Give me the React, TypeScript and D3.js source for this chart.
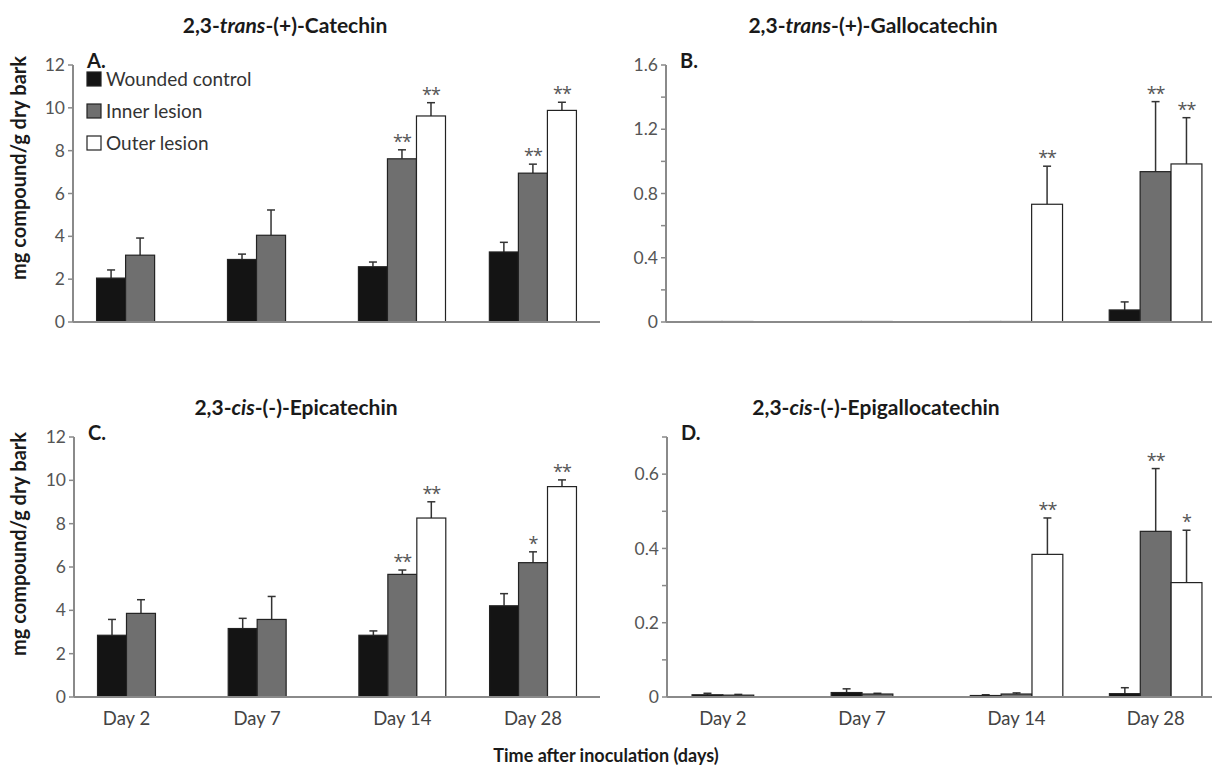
import * as d3 from "d3";

const days = ["Day 2", "Day 7", "Day 14", "Day 28"];
const seriesNames = ["Wounded control", "Inner lesion", "Outer lesion"];
const seriesFill = ["#141414", "#6f6f6f", "#ffffff"];

// A. 2,3-trans-(+)-Catechin
const catechinWounded = [2.05, 2.92, 2.58, 3.27];
const catechinWoundedErr = [0.38, 0.25, 0.22, 0.45];
const catechinInner = [3.12, 4.05, 7.62, 6.95];
const catechinInnerErr = [0.8, 1.18, 0.42, 0.42];
const catechinOuter = [null, null, 9.62, 9.88];
const catechinOuterErr = [null, null, 0.62, 0.38];
const catechinInnerSig = ["", "", "**", "**"];
const catechinOuterSig = ["", "", "**", "**"];

// B. 2,3-trans-(+)-Gallocatechin
const galloWounded = [0.003, 0.003, 0.003, 0.075];
const galloWoundedErr = [0, 0, 0, 0.05];
const galloInner = [0.003, 0.003, 0.003, 0.936];
const galloInnerErr = [0, 0, 0, 0.436];
const galloOuter = [null, null, 0.733, 0.984];
const galloOuterErr = [null, null, 0.237, 0.288];
const galloInnerSig = ["", "", "", "**"];
const galloOuterSig = ["", "", "**", "**"];

// C. 2,3-cis-(-)-Epicatechin
const epiWounded = [2.85, 3.16, 2.85, 4.21];
const epiWoundedErr = [0.73, 0.47, 0.2, 0.56];
const epiInner = [3.86, 3.58, 5.66, 6.2];
const epiInnerErr = [0.63, 1.06, 0.2, 0.5];
const epiOuter = [null, null, 8.26, 9.71];
const epiOuterErr = [null, null, 0.75, 0.31];
const epiInnerSig = ["", "", "**", "*"];
const epiOuterSig = ["", "", "**", "**"];

// D. 2,3-cis-(-)-Epigallocatechin
const epigalloWounded = [0.006, 0.012, 0.004, 0.009];
const epigalloWoundedErr = [0.004, 0.01, 0.002, 0.016];
const epigalloInner = [0.005, 0.008, 0.008, 0.446];
const epigalloInnerErr = [0.002, 0.002, 0.003, 0.169];
const epigalloOuter = [null, null, 0.384, 0.308];
const epigalloOuterErr = [null, null, 0.098, 0.141];
const epigalloInnerSig = ["", "", "", "**"];
const epigalloOuterSig = ["", "", "**", "*"];

const FONT = "Lato, 'Open Sans', sans-serif";
const AXIS = "#8a8a8a";

type PanelProps = {
  letter: string;
  titlePre: string;
  titleIt: string;
  titlePost: string;
  titleX: number;
  titleY: number;
  x0: number;
  x1: number;
  yBottom: number;
  yTop: number;
  yMax: number;
  tickStep: number;
  labelEvery: number;
  values: (number | null)[][];
  errors: (number | null)[][];
  sig: string[][];
  showDays: boolean;
  legend?: boolean;
};

function Panel(p: PanelProps) {
  const x = d3.scaleBand().domain(days).range([p.x0, p.x1]).paddingInner(0.335).paddingOuter(0.18);
  const xs = d3.scaleBand().domain(seriesNames).range([0, x.bandwidth()]);
  const y = d3.scaleLinear().domain([0, p.yMax]).range([p.yBottom, p.yTop]);
  const ticks = d3.range(0, p.yMax + p.tickStep / 2, p.tickStep);
  const fmt = (v: number) => (v === 0 ? "0" : p.tickStep >= 1 ? String(Math.round(v)) : d3.format(".1f")(v));

  return (
    <g>
      <text x={p.titleX} y={p.titleY} textAnchor="middle" fontFamily={FONT} fontWeight="bold" fontSize={21} fill="#1a1a1a">
        {p.titlePre}
        <tspan fontStyle="italic">{p.titleIt}</tspan>
        {p.titlePost}
      </text>
      <text x={p.x0 + 14} y={p.yTop + 3} fontFamily={FONT} fontWeight="bold" fontSize={20} fill="#1a1a1a">
        {p.letter}
      </text>
      {/* bars */}
      {days.map((d, i) => (
        <g key={d} transform={`translate(${x(d)},0)`}>
          {seriesNames.map((s, j) => {
            const v = p.values[j][i];
            if (v == null) return null;
            const bx = xs(s)!;
            const top = y(v);
            const e = p.errors[j][i] ?? 0;
            const etop = y(v + e);
            const cx = bx + xs.bandwidth() / 2;
            return (
              <g key={s}>
                {e > 0 && (
                  <g stroke="#333" strokeWidth={1.5}>
                    <line x1={cx} x2={cx} y1={top} y2={etop} />
                    <line x1={cx - 4} x2={cx + 4} y1={etop} y2={etop} />
                  </g>
                )}
                <rect
                  x={bx}
                  y={top}
                  width={xs.bandwidth()}
                  height={Math.max(0, y(0) - top)}
                  fill={seriesFill[j]}
                  stroke="#222"
                  strokeWidth={1.2}
                />
                {p.sig[j][i] && (
                  <text
                    x={cx}
                    y={etop - 2}
                    textAnchor="middle"
                    fontFamily="'Open Sans', sans-serif"
                    fontSize={18}
                    fill="#555"
                    letterSpacing={-1}
                  >
                    {p.sig[j][i]}
                  </text>
                )}
              </g>
            );
          })}
        </g>
      ))}
      {/* axes */}
      <line x1={p.x0} x2={Math.min(p.x1, 1212)} y1={p.yBottom} y2={p.yBottom} stroke={AXIS} strokeWidth={2} />
      <line x1={p.x0} x2={p.x0} y1={p.yBottom} y2={p.yTop} stroke={AXIS} strokeWidth={2} />
      {ticks.map((t, k) => (
        <g key={k} transform={`translate(${p.x0},${y(t)})`}>
          <line x1={-5} x2={0} stroke={AXIS} strokeWidth={1.5} />
          {k % p.labelEvery === 0 && (
            <text x={-8} dy="0.35em" textAnchor="end" fontFamily={FONT} fontSize={17.5} fill="#555">
              {fmt(t)}
            </text>
          )}
        </g>
      ))}
      {p.showDays &&
        days.map((d, i) => {
          const present = seriesNames.filter((s, j) => p.values[j][i] != null);
          const cx = x(d)! + (xs(present[0])! + xs(present[present.length - 1])! + xs.bandwidth()) / 2;
          return (
            <text key={d} x={cx} y={p.yBottom + 28} textAnchor="middle" fontFamily={FONT} fontSize={18.5} fill="#444">
              {d}
            </text>
          );
        })}
      {p.legend &&
        seriesNames.map((s, j) => (
          <g key={s} transform={`translate(${p.x0 + 14},${p.yTop + 7 + j * 32})`}>
            <rect x={0} y={0} width={14} height={14} fill={seriesFill[j]} stroke="#222" strokeWidth={1.2} />
            <text x={19} y={13.5} fontFamily={FONT} fontSize={19} fill="#333">
              {s}
            </text>
          </g>
        ))}
    </g>
  );
}

export default function App() {
  return (
    <svg width={1212} height={767} style={{ position: "absolute", left: 0, top: 0, background: "#fff" }}>
      <Panel
        letter="A."
        titlePre="2,3-"
        titleIt="trans"
        titlePost="-(+)-Catechin"
        titleX={285}
        titleY={33}
        x0={73}
        x1={600}
        yBottom={322}
        yTop={65}
        yMax={12}
        tickStep={2}
        labelEvery={1}
        values={[catechinWounded, catechinInner, catechinOuter]}
        errors={[catechinWoundedErr, catechinInnerErr, catechinOuterErr]}
        sig={[["", "", "", ""], catechinInnerSig, catechinOuterSig]}
        showDays={false}
        legend
      />
      <Panel
        letter="B."
        titlePre="2,3-"
        titleIt="trans"
        titlePost="-(+)-Gallocatechin"
        titleX={873}
        titleY={33}
        x0={666}
        x1={1227}
        yBottom={322}
        yTop={65}
        yMax={1.6}
        tickStep={0.2}
        labelEvery={2}
        values={[galloWounded, galloInner, galloOuter]}
        errors={[galloWoundedErr, galloInnerErr, galloOuterErr]}
        sig={[["", "", "", ""], galloInnerSig, galloOuterSig]}
        showDays={false}
      />
      <Panel
        letter="C."
        titlePre="2,3-"
        titleIt="cis"
        titlePost="-(-)-Epicatechin"
        titleX={296}
        titleY={415}
        x0={74}
        x1={600}
        yBottom={697}
        yTop={437}
        yMax={12}
        tickStep={2}
        labelEvery={1}
        values={[epiWounded, epiInner, epiOuter]}
        errors={[epiWoundedErr, epiInnerErr, epiOuterErr]}
        sig={[["", "", "", ""], epiInnerSig, epiOuterSig]}
        showDays
      />
      <Panel
        letter="D."
        titlePre="2,3-"
        titleIt="cis"
        titlePost="-(-)-Epigallocatechin"
        titleX={876}
        titleY={415}
        x0={667}
        x1={1227}
        yBottom={697}
        yTop={437}
        yMax={0.7}
        tickStep={0.1}
        labelEvery={2}
        values={[epigalloWounded, epigalloInner, epigalloOuter]}
        errors={[epigalloWoundedErr, epigalloInnerErr, epigalloOuterErr]}
        sig={[["", "", "", ""], epigalloInnerSig, epigalloOuterSig]}
        showDays
      />
      <text transform="translate(26,168) rotate(-90)" textAnchor="middle" fontFamily={FONT} fontWeight="bold" fontSize={20} fill="#1a1a1a">
        mg compound/g dry bark
      </text>
      <text transform="translate(26,544) rotate(-90)" textAnchor="middle" fontFamily={FONT} fontWeight="bold" fontSize={20} fill="#1a1a1a">
        mg compound/g dry bark
      </text>
      <text x={606} y={762} textAnchor="middle" fontFamily={FONT} fontWeight="bold" fontSize={18} fill="#1a1a1a">
        Time after inoculation (days)
      </text>
    </svg>
  );
}
